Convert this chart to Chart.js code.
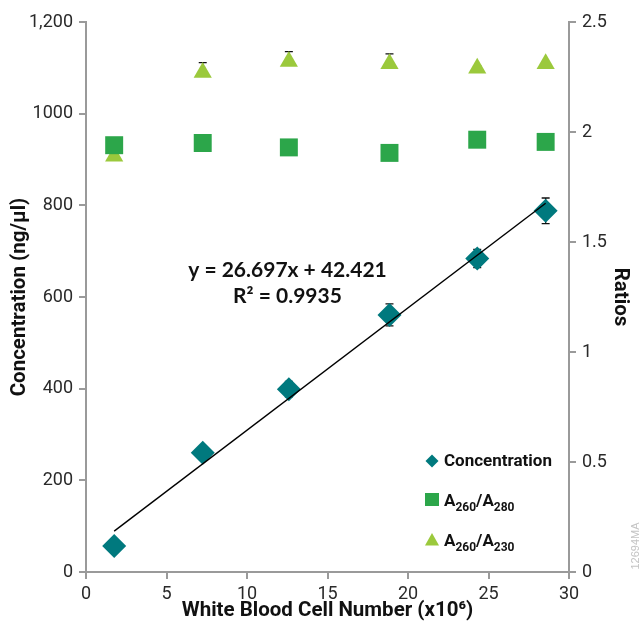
<!DOCTYPE html>
<html>
<head>
<meta charset="utf-8">
<script src="https://cdn.jsdelivr.net/npm/chart.js@4.4.0/dist/chart.umd.min.js"></script>
<style>
  html, body { margin: 0; padding: 0; background: #fff; }
  #wrap { width: 641px; height: 631px; position: relative; }
</style>
</head>
<body>
<div id="wrap"><canvas id="chart"></canvas></div>
<script>
"use strict";

// white blood cell number (x10^6)
var cellNumber = [1.75, 7.25, 12.6, 18.85, 24.3, 28.55];
// concentration (ng/ul) and its error
var concentration = [57, 260, 399, 561, 684, 788];
var concentrationErr = [4, 8, 17, 24, 20, 28];
// ratios
var ratio280 = [1.94, 1.95, 1.93, 1.905, 1.965, 1.955];
var ratio230 = [1.89, 2.27, 2.32, 2.31, 2.29, 2.31];
var ratio230Err = [0.01, 0.045, 0.045, 0.045, 0.01, 0.01]; // plus only

// trendline y = 26.697x + 42.421
var slope = 26.697;
var intercept = 42.421;

var leftTicks = ["0", "200", "400", "600", "800", "1000", "1,200"];
var rightTicks = ["0", "0.5", "1", "1.5", "2", "2.5"];

var FONT = "Roboto, 'Liberation Sans', sans-serif";
var teal = "#00797e";
var green = "#2ca64a";
var lime = "#9bc93c";
var axisGray = "#9a9a9a";

function pts(xs, ys) {
  return xs.map(function (x, i) { return { x: x, y: ys[i] }; });
}

var trendX = [cellNumber[0], cellNumber[cellNumber.length - 1]];
var trendData = trendX.map(function (x) { return { x: x, y: slope * x + intercept }; });

// error bars, drawn under the markers
var errorBars = {
  id: "errorBars",
  beforeDatasetsDraw: function (chart) {
    var ctx = chart.ctx;
    var x = chart.scales.x;
    function bars(ys, errs, scale, plusOnly) {
      ys.forEach(function (v, i) {
        var px = x.getPixelForValue(cellNumber[i]);
        var top = scale.getPixelForValue(v + errs[i]);
        var bot = plusOnly ? scale.getPixelForValue(v) : scale.getPixelForValue(v - errs[i]);
        ctx.beginPath();
        ctx.moveTo(px, top); ctx.lineTo(px, bot);
        ctx.moveTo(px - 4, top); ctx.lineTo(px + 4, top);
        if (!plusOnly) { ctx.moveTo(px - 4, bot); ctx.lineTo(px + 4, bot); }
        ctx.stroke();
      });
    }
    ctx.save();
    ctx.strokeStyle = "#111";
    ctx.lineWidth = 1.3;
    bars(concentration, concentrationErr, chart.scales.y, false);
    bars(ratio230, ratio230Err, chart.scales.y2, true);
    ctx.restore();
  }
};

// equation, legend and figure code
var overlay = {
  id: "overlay",
  afterDraw: function (chart) {
    var ctx = chart.ctx;
    ctx.save();

    ctx.fillStyle = "#111";
    ctx.textAlign = "center";
    ctx.textBaseline = "alphabetic";
    ctx.font = "bold 21px Lato, 'Open Sans', sans-serif";
    ctx.fillText("y = 26.697x + 42.421", 287.5, 277);
    ctx.fillText("R\u00b2 = 0.9935", 287.5, 303);

    // legend
    var mx = 432, tx = 444;
    ctx.fillStyle = teal;
    ctx.beginPath();
    ctx.moveTo(mx, 454.5); ctx.lineTo(mx + 6.5, 461);
    ctx.lineTo(mx, 467.5); ctx.lineTo(mx - 6.5, 461);
    ctx.closePath(); ctx.fill();

    ctx.fillStyle = green;
    ctx.fillRect(mx - 7, 493, 14, 13);

    ctx.fillStyle = lime;
    ctx.beginPath();
    ctx.moveTo(mx, 533); ctx.lineTo(mx + 7, 545.5); ctx.lineTo(mx - 7, 545.5);
    ctx.closePath(); ctx.fill();

    ctx.fillStyle = "#111";
    ctx.textAlign = "left";
    ctx.font = "bold 17px " + FONT;
    ctx.fillText("Concentration", tx, 466);

    function ratioLabel(sub2, base) {
      var x = tx;
      var big = "bold 17px " + FONT;
      var small = "bold 12px " + FONT;
      ctx.font = big; ctx.fillText("A", x, base); x += ctx.measureText("A").width;
      ctx.font = small; ctx.fillText("260", x, base + 5); x += ctx.measureText("260").width;
      ctx.font = big; ctx.fillText("/A", x, base); x += ctx.measureText("/A").width;
      ctx.font = small; ctx.fillText(sub2, x, base + 5);
    }
    ratioLabel("280", 506);
    ratioLabel("230", 546);

    // figure code
    ctx.translate(636, 546);
    ctx.rotate(-Math.PI / 2);
    ctx.textAlign = "center";
    ctx.textBaseline = "middle";
    ctx.fillStyle = "#c4c4c4";
    ctx.font = "11px 'Liberation Sans', sans-serif";
    ctx.fillText("12694MA", 0, 0);

    ctx.restore();
  }
};

var tickFont = { family: FONT, size: 18 };
var titleFont = { family: FONT, size: 20.5, weight: "bold" };

new Chart(document.getElementById("chart"), {
  type: "scatter",
  data: {
    datasets: [
      {
        type: "line",
        label: "trend",
        data: trendData,
        borderColor: "#000",
        borderWidth: 1.4,
        pointRadius: 0,
        fill: false,
        yAxisID: "y",
        order: 0
      },
      {
        label: "Concentration",
        data: pts(cellNumber, concentration),
        pointStyle: "rectRot",
        pointRadius: 12,
        backgroundColor: teal,
        borderWidth: 0,
        yAxisID: "y",
        order: 1
      },
      {
        label: "A260/A280",
        data: pts(cellNumber, ratio280),
        pointStyle: "rect",
        pointRadius: 12.7,
        backgroundColor: green,
        borderWidth: 0,
        yAxisID: "y2",
        order: 2
      },
      {
        label: "A260/A230",
        data: pts(cellNumber, ratio230),
        pointStyle: "triangle",
        pointRadius: 10.5,
        backgroundColor: lime,
        borderWidth: 0,
        yAxisID: "y2",
        order: 3
      }
    ]
  },
  options: {
    responsive: true,
    maintainAspectRatio: false,
    animation: false,
    layout: { padding: { top: 22, left: 0, right: 0, bottom: 0 } },
    plugins: {
      legend: { display: false },
      tooltip: { enabled: false }
    },
    scales: {
      x: {
        type: "linear",
        position: "bottom",
        min: 0,
        max: 30,
        afterFit: function (s) { s.height = 59; },
        ticks: { stepSize: 5, color: "#2a2a2a", font: tickFont, padding: 5 },
        grid: { drawOnChartArea: false, drawTicks: true, tickLength: 7, color: axisGray, lineWidth: 2 },
        border: { display: true, color: axisGray, width: 2 },
        title: { display: true, text: "White Blood Cell Number (x10\u2076)", color: "#111", font: titleFont, padding: { top: 0, bottom: 8 } }
      },
      y: {
        type: "linear",
        position: "left",
        min: 0,
        max: 1200,
        afterFit: function (s) { s.width = 86; },
        ticks: {
          stepSize: 200, color: "#2a2a2a", font: tickFont, padding: 6,
          callback: function (v, i) { return leftTicks[i]; }
        },
        grid: { drawOnChartArea: false, drawTicks: true, tickLength: 7, color: axisGray, lineWidth: 2 },
        border: { display: true, color: axisGray, width: 2 },
        title: { display: true, text: "Concentration (ng/\u00b5l)", color: "#111", font: titleFont, padding: { top: 8, bottom: 0 } }
      },
      y2: {
        type: "linear",
        position: "right",
        min: 0,
        max: 2.5,
        afterFit: function (s) { s.width = 72; },
        ticks: {
          stepSize: 0.5, color: "#2a2a2a", font: tickFont, padding: 6,
          callback: function (v, i) { return rightTicks[i]; }
        },
        grid: { drawOnChartArea: false, drawTicks: true, tickLength: 7, color: axisGray, lineWidth: 2 },
        border: { display: true, color: axisGray, width: 2 },
        title: { display: true, text: "Ratios", color: "#111", font: titleFont, padding: { top: 9, bottom: 0 } }
      }
    }
  },
  plugins: [errorBars, overlay]
});
</script>
</body>
</html>
